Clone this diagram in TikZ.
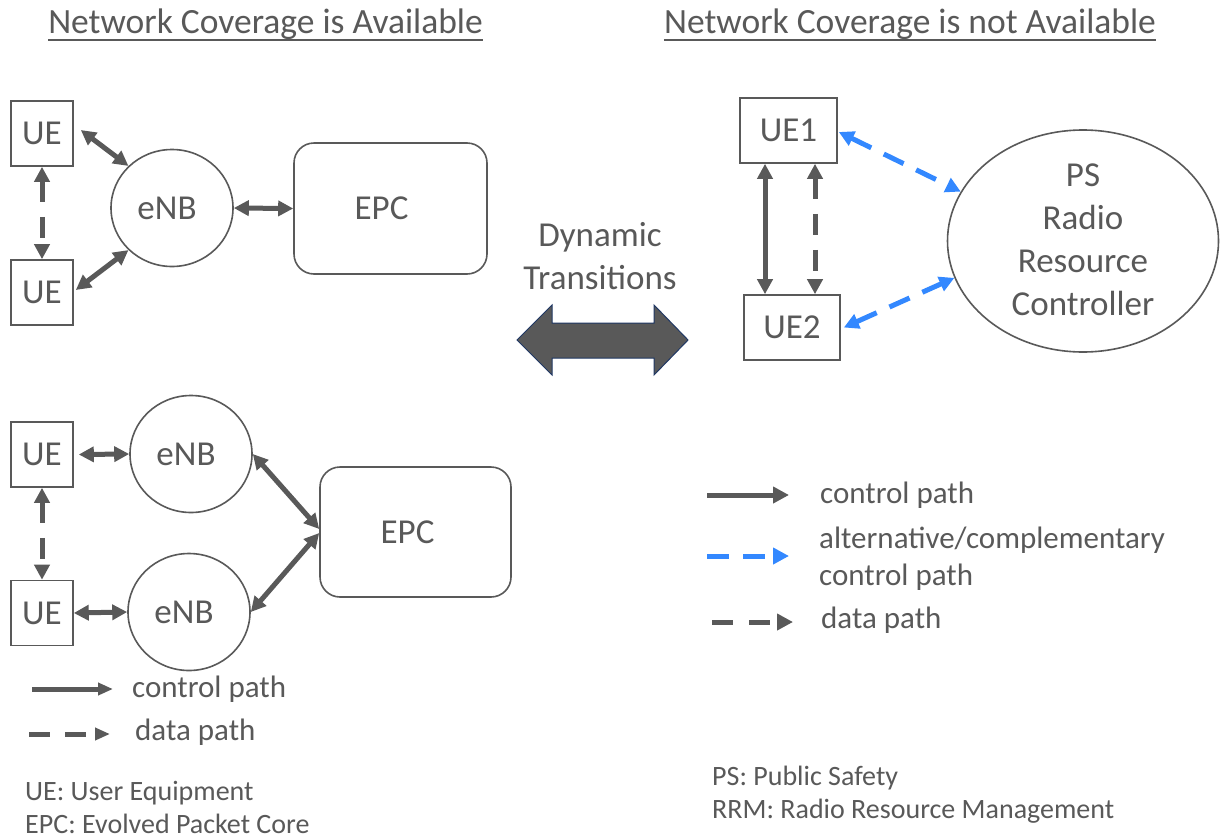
\documentclass[tikz,border=0pt]{standalone}
\usepackage{fontspec}
\setmainfont{Carlito}
\usetikzlibrary{arrows.meta,shapes.geometric}
\definecolor{gry}{HTML}{595959}
\definecolor{blu}{HTML}{3388FF}
\definecolor{navy}{HTML}{203864}
\tikzset{
 bigtext/.style={font=\fontsize{35}{43}\selectfont, text=gry},
 titletext/.style={font=\fontsize{35.5}{43}\selectfont, text=gry, anchor=base, inner sep=0pt},
 legtext/.style={font=\fontsize{31}{37}\selectfont, text=gry, inner sep=0pt, anchor=base west},
 foottext/.style={font=\fontsize{28}{33}\selectfont, text=gry, inner sep=0pt, anchor=base west},
 uebox/.style={draw=gry, line width=1.6pt, minimum width=62pt, minimum height=65pt, inner sep=0pt, bigtext},
 enbnode/.style={ellipse, draw=gry, line width=1.6pt, minimum width=122pt, minimum height=117pt, inner sep=0pt, bigtext},
 epcbox/.style={draw=gry, line width=1.6pt, rounded corners=20pt, minimum width=193pt, minimum height=131pt, inner sep=0pt, bigtext},
 ctlarrow/.style={draw=gry, line width=5pt, {Triangle[length=15pt,width=15pt]}-{Triangle[length=15pt,width=15pt]}},
 dataarrow/.style={ctlarrow, dash pattern=on 21pt off 15pt},
 altarrow/.style={ctlarrow, draw=blu, dash pattern=on 22pt off 14pt},
 legctlL/.style={draw=gry, line width=5pt, -{Triangle[length=15pt,width=12pt]}},
 legdatL/.style={legctlL, dash pattern=on 21pt off 15pt},
 legctlR/.style={draw=gry, line width=5pt, -{Triangle[length=16pt,width=16pt]}},
 legdatR/.style={legctlR, dash pattern=on 21pt off 16pt},
 legaltR/.style={legctlR, draw=blu, dash pattern=on 22pt off 14pt},
}
\begin{document}
\begin{tikzpicture}[x=1pt,y=-1pt]
\useasboundingbox[fill=white] (0,0) rectangle (1222,838);

% titles
\node[titletext] (t1) at (265.5,33) {Network Coverage is Available};
\draw[gry, line width=2.5pt] ([yshift=-7pt]t1.base west) -- ([yshift=-7pt]t1.base east);
\node[titletext] (t2) at (910,33) {Network Coverage is not Available};
\draw[gry, line width=2.5pt] ([yshift=-7pt]t2.base west) -- ([yshift=-7pt]t2.base east);

% top-left
\node[uebox] (ue1) at (42,133.5) {UE};
\node[uebox] (ue2) at (42,292.5) {UE};
\node[enbnode] (enb) at (172,208) {\hspace*{-10pt}eNB};
\node[epcbox] (epc) at (390.5,208.5) {\hspace*{-18pt}EPC};
\draw[ctlarrow] ([xshift=7pt,yshift=3.5pt]ue1.east) -- (enb.136);
\draw[ctlarrow] ([xshift=2pt,yshift=2.5pt]ue2.east) -- (enb.224);
\draw[ctlarrow] (enb.east) -- (epc.west);
\draw[dataarrow] (ue1.south) -- (ue2.north);

% bottom-left
\node[uebox] (ue3) at (42,454.5) {UE};
\node[uebox] (ue4) at (42,613) {UE};
\node[enbnode] (enb3) at (191,454) {\hspace*{-10pt}eNB};
\node[enbnode] (enb4) at (189,612) {\hspace*{-10pt}eNB};
\node[epcbox, minimum width=191pt, minimum height=130pt] (epc2) at (415.5,532) {\hspace*{-16pt}EPC};
\draw[ctlarrow] ([xshift=5pt]ue3.east) -- (enb3.west);
\draw[ctlarrow] (ue4.east) -- (enb4.west);
\draw[ctlarrow] (enb3.east) -- ([yshift=3pt]epc2.west);
\draw[ctlarrow] (enb4.east) -- ([yshift=-1pt]epc2.west);
\draw[dataarrow] (ue3.south) -- (ue4.north);

% middle
\node[bigtext, align=center, inner sep=0pt] (dyn) at (600,256) {Dynamic\\Transitions};
\draw[fill=gry, draw=navy, line width=1pt]
  (517,340) -- (552,305) -- (552,323) -- (654,323) -- (654,305) -- (688,340)
  -- (654,375) -- (654,358) -- (552,358) -- (552,375) -- cycle;

% top-right
\node[uebox, minimum width=97pt] (ua) at (788.5,130.5) {UE1};
\node[uebox, minimum width=96pt] (ub) at (792,327.5) {UE2};
\node[ellipse, draw=gry, line width=1.6pt, minimum width=271pt, minimum height=222pt, inner sep=0pt] (ps) at (1083,241) {};
\node[bigtext, align=center, inner sep=0pt] (pstext) at (1083,239.5) {PS\\Radio\\Resource\\Controller};
\draw[ctlarrow] ([xshift=-23.5pt]ua.south) -- ([xshift=-27pt]ub.north);
\draw[dataarrow] ([xshift=26.5pt]ua.south) -- ([xshift=23pt]ub.north);
\draw[altarrow] ([xshift=1pt,yshift=-1.5pt]ua.east) -- (ps.158);
\draw[altarrow] ([xshift=3pt]ub.east) -- (ps.196);

% right legend
\coordinate (rc1) at (707,495); \coordinate (rc2) at (789,495);
\coordinate (ra1) at (707,556); \coordinate (ra2) at (789,556);
\coordinate (rd1) at (712,622); \coordinate (rd2) at (793,622);
\draw[legctlR] (rc1) -- (rc2);
\draw[legaltR] (ra1) -- (ra2);
\draw[legdatR] (rd1) -- (rd2);
\node[legtext] (rl1) at (820,503) {control path};
\node[legtext] (rl2) at (819,548) {alternative/complementary};
\node[legtext] (rl3) at (819,585) {control path};
\node[legtext] (rl4) at (821,628) {data path};

% left legend
\coordinate (lc1) at (32,689); \coordinate (lc2) at (113,689);
\coordinate (ld1) at (29,734); \coordinate (ld2) at (110,734);
\draw[legctlL] (lc1) -- (lc2);
\draw[legdatL] (ld1) -- (ld2);
\node[legtext] (ll1) at (132,697) {control path};
\node[legtext] (ll2) at (135,740) {data path};

% footnotes
\node[foottext] (f1) at (25,800) {UE: User Equipment};
\node[foottext] (f2) at (25,833) {EPC: Evolved Packet Core};
\node[foottext] (f3) at (712,785) {PS: Public Safety};
\node[foottext] (f4) at (712,818) {RRM: Radio Resource Management};
\end{tikzpicture}
\end{document}
